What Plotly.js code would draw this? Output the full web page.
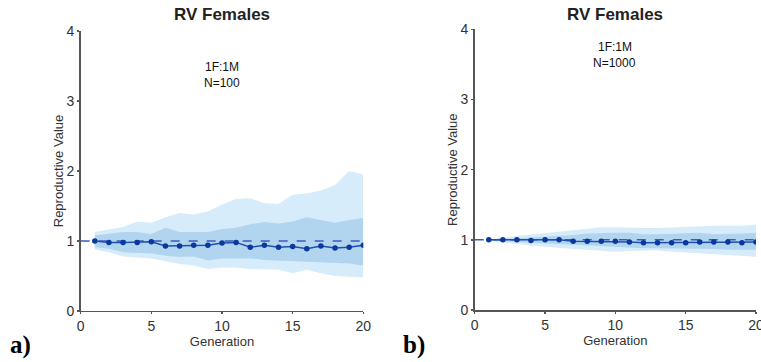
<!DOCTYPE html>
<html>
<head>
<meta charset="utf-8">
<script src="https://cdn.plot.ly/plotly-3.0.1.min.js"></script>
<style>html,body{margin:0;padding:0;background:#fff;}#chart{width:761px;height:362px;}</style>
</head>
<body>
<div id="chart"></div>
<script>
const generations = [1,2,3,4,5,6,7,8,9,10,11,12,13,14,15,16,17,18,19,20];

// Panel a) N=100
const meanA      = [1.00,0.98,0.98,0.98,0.99,0.93,0.93,0.94,0.94,0.97,0.98,0.91,0.94,0.91,0.92,0.89,0.93,0.90,0.91,0.94];
const darkUpA    = [1.08,1.10,1.13,1.13,1.10,1.19,1.13,1.13,1.13,1.17,1.19,1.24,1.27,1.25,1.28,1.34,1.30,1.26,1.30,1.33];
const darkLowA   = [0.91,0.89,0.84,0.83,0.82,0.79,0.77,0.78,0.72,0.75,0.75,0.75,0.73,0.72,0.71,0.71,0.70,0.68,0.68,0.65];
const lightUpA   = [1.13,1.16,1.20,1.28,1.26,1.34,1.40,1.38,1.42,1.52,1.60,1.61,1.54,1.53,1.66,1.68,1.72,1.80,2.00,1.95];
const lightLowA  = [0.88,0.84,0.78,0.77,0.75,0.71,0.67,0.65,0.60,0.62,0.62,0.60,0.60,0.59,0.54,0.59,0.54,0.50,0.49,0.48];

// Panel b) N=1000
const meanB      = [1.00,1.00,1.00,0.99,1.00,1.00,0.98,0.98,0.98,0.98,0.97,0.96,0.96,0.96,0.96,0.97,0.97,0.97,0.96,0.97];
const darkUpB    = [1.00,1.01,1.02,1.03,1.05,1.06,1.07,1.09,1.10,1.10,1.10,1.08,1.08,1.09,1.10,1.10,1.08,1.08,1.09,1.10];
const darkLowB   = [0.99,0.98,0.97,0.95,0.94,0.93,0.92,0.91,0.90,0.90,0.89,0.88,0.88,0.88,0.87,0.87,0.87,0.86,0.86,0.86];
const lightUpB   = [1.01,1.03,1.05,1.07,1.10,1.12,1.14,1.16,1.18,1.18,1.17,1.17,1.17,1.18,1.19,1.20,1.20,1.20,1.20,1.22];
const lightLowB  = [0.99,0.96,0.94,0.92,0.90,0.89,0.87,0.86,0.85,0.83,0.84,0.85,0.85,0.83,0.82,0.81,0.80,0.79,0.78,0.76];

const refX = [0, 20];
const refY = [1, 1];

const titleText = "RV Females";
const ratioText = "1F:1M";
const nTextA = "N=100";
const nTextB = "N=1000";
const panelLabels = ["a)", "b)"];
const xTitle = "Generation";
const yTitle = "Reproductive Value";
const xTicks = [0,5,10,15,20];
const yTicks = [0,1,2,3,4];

const lightCol = "rgb(214,236,250)";
const darkCol = "rgb(178,213,239)";
const lineCol = "rgb(30,80,175)";
const markCol = "rgb(10,56,156)";
const dashCol = "rgb(60,90,190)";

function panel(xa, ya, mean, dU, dL, lU, lL) {
  return [
    {x: generations, y: lL, xaxis: xa, yaxis: ya, mode: "lines", line: {width: 0, color: lightCol}, hoverinfo: "skip", showlegend: false},
    {x: generations, y: lU, xaxis: xa, yaxis: ya, mode: "lines", fill: "tonexty", fillcolor: lightCol, line: {width: 0, color: lightCol}, hoverinfo: "skip", showlegend: false},
    {x: generations, y: dL, xaxis: xa, yaxis: ya, mode: "lines", line: {width: 0, color: darkCol}, hoverinfo: "skip", showlegend: false},
    {x: generations, y: dU, xaxis: xa, yaxis: ya, mode: "lines", fill: "tonexty", fillcolor: darkCol, line: {width: 0, color: darkCol}, hoverinfo: "skip", showlegend: false},
    {x: refX, y: refY, xaxis: xa, yaxis: ya, mode: "lines", line: {width: 1.5, color: dashCol, dash: "dash"}, showlegend: false},
    {x: generations, y: mean, xaxis: xa, yaxis: ya, mode: "lines+markers", line: {width: 1.5, color: lineCol}, marker: {size: 5.5, color: markCol}, showlegend: false}
  ];
}

const data = [].concat(
  panel("x", "y", meanA, darkUpA, darkLowA, lightUpA, lightLowA),
  panel("x2", "y2", meanB, darkUpB, darkLowB, lightUpB, lightLowB)
);

const axisFont = {family: "Liberation Sans, Arial, sans-serif", size: 14, color: "#333"};
function xaxis(domain, anchor) {
  return {domain: domain, anchor: anchor, range: [0, 20], tickvals: xTicks, ticks: "outside", ticklen: 2, tickwidth: 1.5, tickcolor: "#555",
    showline: true, linecolor: "#555", linewidth: 1.5, showgrid: false, zeroline: false, tickfont: axisFont, ticklabeloverflow: "allow",
    title: {text: xTitle, font: {family: "Liberation Sans, Arial, sans-serif", size: 13, color: "#333"}, standoff: 0}};
}
function yaxis(domain, anchor) {
  return {domain: domain, anchor: anchor, range: [0, 4], tickvals: yTicks, ticks: "outside", ticklen: 2, tickwidth: 1.5, tickcolor: "#555",
    showline: true, linecolor: "#555", linewidth: 1.5, showgrid: false, zeroline: false, tickfont: axisFont, ticklabeloverflow: "allow",
    title: {text: yTitle, font: {family: "Liberation Sans, Arial, sans-serif", size: 13, color: "#333"}, standoff: 0}};
}

const txt = {family: "Liberation Sans, Arial, sans-serif", size: 12, color: "#111"};
const layout = {
  width: 761, height: 362,
  margin: {l: 0, r: 0, t: 0, b: 0},
  paper_bgcolor: "#fff", plot_bgcolor: "#fff",
  showlegend: false,
  xaxis: xaxis([0.106, 0.4774], "y"),
  yaxis: yaxis([0.1409, 0.9144], "x"),
  xaxis2: xaxis([0.6238, 0.9934], "y2"),
  yaxis2: yaxis([0.1436, 0.919], "x2"),
  annotations: [
    {xref: "paper", yref: "paper", x: 0.2917, y: 1 - 15/362, text: "<b>" + titleText + "</b>", showarrow: false, xanchor: "center", yanchor: "middle", font: {family: "Liberation Sans, Arial, sans-serif", size: 17, color: "#222"}},
    {xref: "paper", yref: "paper", x: 0.8081, y: 1 - 14/362, text: "<b>" + titleText + "</b>", showarrow: false, xanchor: "center", yanchor: "middle", font: {family: "Liberation Sans, Arial, sans-serif", size: 17, color: "#222"}},
    {xref: "paper", yref: "paper", x: 0.2917, y: 1 - 67/362, text: ratioText, showarrow: false, xanchor: "center", yanchor: "middle", font: txt},
    {xref: "paper", yref: "paper", x: 0.2917, y: 1 - 83/362, text: nTextA, showarrow: false, xanchor: "center", yanchor: "middle", font: txt},
    {xref: "paper", yref: "paper", x: 0.8081, y: 1 - 47/362, text: ratioText, showarrow: false, xanchor: "center", yanchor: "middle", font: txt},
    {xref: "paper", yref: "paper", x: 0.8081, y: 1 - 63/362, text: nTextB, showarrow: false, xanchor: "center", yanchor: "middle", font: txt},
    {xref: "paper", yref: "paper", x: 8/761, y: 1 - 345/362, text: "<b>" + panelLabels[0] + "</b>", showarrow: false, xanchor: "left", yanchor: "middle", font: {family: "Liberation Serif, DejaVu Serif, serif", size: 25, color: "#000"}},
    {xref: "paper", yref: "paper", x: 401/761, y: 1 - 345/362, text: "<b>" + panelLabels[1] + "</b>", showarrow: false, xanchor: "left", yanchor: "middle", font: {family: "Liberation Serif, DejaVu Serif, serif", size: 25, color: "#000"}}
  ]
};

Plotly.newPlot("chart", data, layout, {displayModeBar: false, staticPlot: true});
</script>
</body>
</html>
